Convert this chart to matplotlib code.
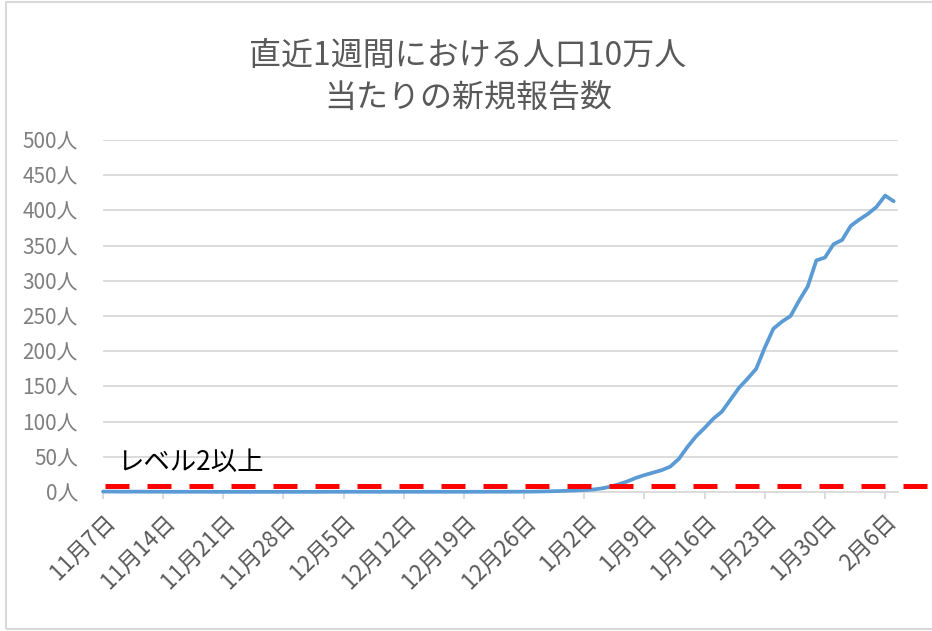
import matplotlib
matplotlib.use("Agg")
import matplotlib.pyplot as plt
from matplotlib.lines import Line2D
from matplotlib.patches import Rectangle
import datetime as dt

plt.rcParams['font.family'] = ['Noto Sans CJK JP', 'DejaVu Sans']

title_text = "直近1週間における人口10万人\n当たりの新規報告数"
level_label = "レベル2以上"
level_value = 9

start_date = dt.date(2021, 11, 7)
# daily values, 11/7 .. 2/7 (per 100k, last 7 days)
values = [
    0.6, 0.6, 0.5, 0.5, 0.5, 0.4, 0.4, 0.4, 0.3, 0.3,
    0.3, 0.3, 0.3, 0.2, 0.2, 0.2, 0.2, 0.2, 0.2, 0.2,
    0.2, 0.2, 0.2, 0.2, 0.2, 0.2, 0.3, 0.3, 0.3, 0.3,
    0.3, 0.3, 0.3, 0.3, 0.3, 0.3, 0.3, 0.3, 0.3, 0.3,
    0.3, 0.3, 0.3, 0.3, 0.3, 0.4, 0.4, 0.4, 0.4, 0.5,
    0.5, 0.8, 1.0, 1.3, 1.8, 2.2, 2.8, 3.5, 5.0, 7.5,
    11, 15, 20, 24, 27.5, 31, 36, 47, 64, 79,
    91, 104, 114, 131, 148, 161, 175, 205, 232, 242,
    250, 272, 292, 329, 333, 352, 358, 378, 387, 395,
    405, 421, 413,
]
days = list(range(len(values)))

tick_days = list(range(0, 92, 7))
tick_labels = []
for d in tick_days:
    t = start_date + dt.timedelta(days=d)
    tick_labels.append(f"{t.month}月{t.day}日")

y_ticks = list(range(0, 501, 50))
y_labels = [f"{v}人" for v in y_ticks]

fig = plt.figure(figsize=(9.32, 6.31), dpi=100)
ax = fig.add_axes([103/932, 139/631, 795/932, 352/631])

ax.set_xlim(0, 92.5)
ax.set_ylim(0, 500)

for v in y_ticks[1:]:
    ax.axhline(v, color='#d9d9d9', lw=1.3, zorder=0)

ax.plot(days, values, color='#5b9bd5', lw=2.7, solid_capstyle='round',
        solid_joinstyle='round', zorder=3, clip_on=False)

# level line extending beyond the plot
red = Line2D([0.2, 96.2], [level_value, level_value], color='#ff0000', lw=3.6,
             dashes=(4.8, 3.6), dash_capstyle='butt', clip_on=False, zorder=4,
             transform=ax.transData)
ax.add_line(red)
ax.text(1.6, 42, level_label, fontsize=19, color='black', ha='left', va='center')

for s in ['top', 'right', 'left']:
    ax.spines[s].set_visible(False)
ax.spines['bottom'].set_color('#d9d9d9')
ax.spines['bottom'].set_linewidth(1.3)

ax.set_yticks(y_ticks)
ax.set_yticklabels(y_labels, fontsize=15, color='#7f7f7f')
ax.tick_params(axis='y', length=0, pad=18)

ax.set_xticks(tick_days)
ax.set_xticklabels(tick_labels, fontsize=16, color='#595959', rotation=45,
                   ha='right', va='top', rotation_mode='anchor')
ax.tick_params(axis='x', length=5, color='#d9d9d9', width=1.3, pad=8)

fig.text(0.502, 1 - 77/631, title_text, fontsize=23, color='#595959',
         ha='center', va='center', linespacing=1.4)

fig.add_artist(Rectangle((6/932, 2/631), 1.0, 627/631, transform=fig.transFigure,
                         fill=False, edgecolor='#d9d9d9', lw=1.5))

fig.savefig('out.png', dpi=100)
